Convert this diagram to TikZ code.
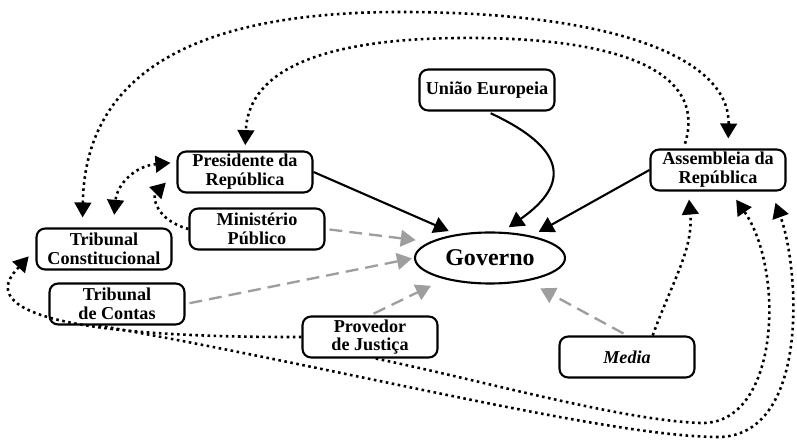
\documentclass[tikz,border=0pt]{standalone}
\usepackage{fontspec}
\setmainfont{Liberation Serif}
\usetikzlibrary{arrows.meta,shapes.geometric}

\definecolor{govgray}{RGB}{158,158,158}

\tikzset{
  org/.style={draw, line width=1.8pt, rounded corners=2.6mm, minimum width=40.5mm,
    minimum height=12.3mm, inner sep=1pt, align=center,
    font=\bfseries\fontsize{15.5}{16}\selectfont},
  solidarrow/.style={line width=1.8pt, ->, shorten >=2.4mm},
  grayarrow/.style={govgray, line width=2pt, dash pattern=on 11pt off 6pt, ->, shorten <=1.2mm},
  dotarrow/.style={line width=2.2pt, dash pattern=on 2.2pt off 3pt, ->},
}

\begin{document}
\begin{tikzpicture}[x=0.3mm, y=0.3mm, >={Triangle[length=4.5mm,width=5mm]}]
    \useasboundingbox (0,0) rectangle (797,440);

    % --- Orgaos ---
    \node[org] (pres) at (245,268) {Presidente da\\República};
    \node[org] (ue) at (487,350) {União Europeia};
    \node[org] (ar) at (718,270) {Assembleia da\\República};
    \node[org] (mp) at (257,211) {Ministério\\Público};
    \node[org] (tc) at (104,191) {Tribunal\\Constitucional};
    \node[org] (tcont) at (117,136) {Tribunal\\de Contas};
    \node[org] (prov) at (370,103) {Provedor\\de Justiça};
    \node[org, font=\bfseries\itshape\fontsize{15.5}{16}\selectfont] (media) at (627,83) {Media};

    % Governo
    \node[draw, ellipse, line width=1.8pt, minimum width=45mm, minimum height=15.3mm,
      inner sep=0pt, font=\bfseries\fontsize{20.5}{22}\selectfont] (gov) at (490,182) {Governo};

    % --- Ligacoes directas ---
    \draw[solidarrow] (pres.east) -- (gov.145);
    \draw[solidarrow, shorten <=1.2mm] (ue.south) to[out=-25, in=35, looseness=1.8] (gov.65);
    \draw[solidarrow] (ar.west) -- (gov.28);

    % --- Influencia (cinzento) ---
    \draw[grayarrow, shorten >=4.2mm] (mp.east) -- (gov.165);
    \draw[grayarrow, shorten >=0.6mm] (tcont.east) -- (gov.west);
    \draw[grayarrow, shorten >=4.5mm] (prov.north) -- (gov.205);
    \draw[grayarrow, shorten >=4.5mm] (media.north) -- (gov.-32);

    % --- Controlo (pontilhado) ---
    \draw[dotarrow, <->, shorten <=3mm, shorten >=3mm] (tc.135)
        .. controls (85,370) and (200,428) .. (400,428)
        .. controls (620,428) and (730,380) .. (ar.65);
    \draw[dotarrow, shorten <=1.5mm, shorten >=1.6mm] (ar.148)
        .. controls (705,360) and (640,400) .. (480,402)
        .. controls (300,404) and (248,360) .. (pres.north);
    \draw[dotarrow, <->, shorten <=1.8mm, shorten >=3.8mm] (pres.172) to[out=185, in=85, looseness=1.2] (tc.67);
    \draw[dotarrow, shorten >=4.5mm] (mp.west) to[out=165, in=225, looseness=1.5] (pres.west);
    \draw[dotarrow, shorten >=3mm] (prov.west) .. controls (-55,102) and (8,161) .. (tc.west);

    % em baixo, para a Assembleia
    \draw[dotarrow, shorten >=3.6mm] (tcont.-130)
        .. controls (350,70) and (600,5) .. (715,3)
        .. controls (810,0) and (800,170) .. (ar.-22);
    \draw[dotarrow, shorten >=3mm] (prov.-75)
        .. controls (480,60) and (620,20) .. (700,17)
        .. controls (780,14) and (785,170) .. (ar.-60);
    \draw[dotarrow, shorten >=2.4mm] (media.40) to[out=70, in=-85] (ar.-144);

\end{tikzpicture}
\end{document}
